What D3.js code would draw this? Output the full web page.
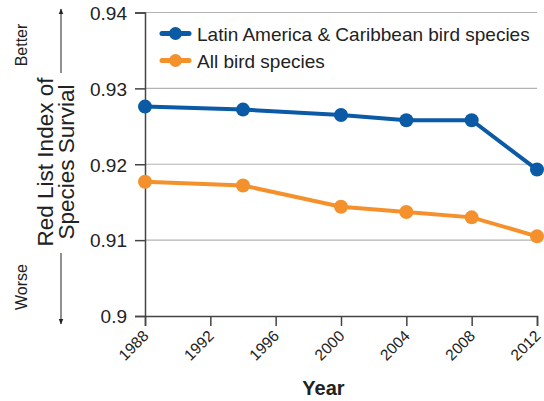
<!DOCTYPE html>
<html><head><meta charset="utf-8">
<script src="https://cdn.jsdelivr.net/npm/d3@7"></script>
<style>body{margin:0;background:#fff}svg{display:block}text{font-family:"Liberation Sans",Arial,Helvetica,sans-serif}</style>
</head><body>
<script>
const years = [1988, 1994, 2000, 2004, 2008, 2012];
const latinAmerica = [0.9276, 0.9272, 0.9265, 0.9258, 0.9258, 0.9193];
const allBirds = [0.9177, 0.9172, 0.9144, 0.9137, 0.9130, 0.9105];
const xTicks = [1988, 1992, 1996, 2000, 2004, 2008, 2012];
const yTicks = [0.9, 0.91, 0.92, 0.93, 0.94];
const yTickLabels = ["0.9", "0.91", "0.92", "0.93", "0.94"];
const seriesNames = ["Latin America & Caribbean bird species", "All bird species"];
const colors = ["#0a5aa6", "#f5912d"];

const W = 544, H = 401;
const svg = d3.select("body").append("svg").attr("width", W).attr("height", H);
const x = d3.scaleLinear().domain([1988, 2012]).range([145, 537]);
const y = d3.scaleLinear().domain([0.9, 0.94]).range([316, 12.5]);

// gridlines
svg.append("g").selectAll("line").data(yTicks.slice(1)).join("line")
  .attr("x1", 145).attr("x2", 537).attr("y1", d => y(d)).attr("y2", d => y(d))
  .attr("stroke", "#b3b3b3").attr("stroke-width", 1.2);

// y axis
const yAxis = d3.axisLeft(y).tickValues(yTicks).tickFormat((d, i) => yTickLabels[i]).tickSize(10).tickPadding(8);
const gy = svg.append("g").attr("transform", "translate(145,0)").call(yAxis);
gy.select(".domain").attr("stroke", "#444").attr("stroke-width", 1.5);
gy.selectAll(".tick line").attr("stroke", "#444").attr("stroke-width", 1.5);
gy.selectAll("text").attr("font-size", 19).attr("fill", "#222").attr("dy", "0.36em");

// x axis
const xAxis = d3.axisBottom(x).tickValues(xTicks).tickFormat(d3.format("d")).tickSize(10);
const gx = svg.append("g").attr("transform", "translate(0,316)").call(xAxis);
gx.select(".domain").attr("stroke", "#444").attr("stroke-width", 1.5);
gx.selectAll(".tick line").attr("stroke", "#444").attr("stroke-width", 1.5);
gx.selectAll("text").attr("font-size", 15.5).attr("fill", "#222")
  .attr("text-anchor", "end").attr("dy", 0).attr("y", 0)
  .attr("transform", "translate(4,21) rotate(-45)");

// lines
const seriesData = [latinAmerica, allBirds];
const line = d3.line().x((d, i) => x(years[i])).y(d => y(d));
seriesData.forEach((s, k) => {
  svg.append("path").datum(s).attr("d", line).attr("fill", "none")
    .attr("stroke", colors[k]).attr("stroke-width", 4);
  svg.append("g").selectAll("circle").data(s).join("circle")
    .attr("cx", (d, i) => x(years[i])).attr("cy", d => y(d)).attr("r", 7)
    .attr("fill", colors[k]);
});

// legend
seriesNames.forEach((n, k) => {
  const ly = 33.5 + k * 27;
  svg.append("line").attr("x1", 162).attr("x2", 189).attr("y1", ly).attr("y2", ly)
    .attr("stroke", colors[k]).attr("stroke-width", 5).attr("stroke-linecap", "round");
  svg.append("circle").attr("cx", 175.5).attr("cy", ly).attr("r", 6.5).attr("fill", colors[k]);
  svg.append("text").attr("x", 197).attr("y", ly + 7).attr("font-size", 19).attr("fill", "#222").text(n);
});

// axis titles
svg.append("text").attr("x", 323.5).attr("y", 395).attr("text-anchor", "middle")
  .attr("font-size", 20).attr("font-weight", "bold").attr("fill", "#222").text("Year");
const yl = svg.append("text").attr("transform", "translate(0,162) rotate(-90)")
  .attr("text-anchor", "middle").attr("font-size", 22.5).attr("fill", "#222");
yl.append("tspan").attr("x", 0).attr("y", 53).text("Red List Index of");
yl.append("tspan").attr("x", 0).attr("y", 74).text("Species Survial");

svg.append("text").attr("transform", "translate(27,45) rotate(-90)").attr("text-anchor", "middle")
  .attr("font-size", 16).attr("fill", "#222").text("Better");
svg.append("text").attr("transform", "translate(27,287) rotate(-90)").attr("text-anchor", "middle")
  .attr("font-size", 16).attr("fill", "#222").text("Worse");

// arrows
const defs = svg.append("defs");
defs.append("marker").attr("id", "ah").attr("viewBox", "0 0 10 10").attr("refX", 9).attr("refY", 5)
  .attr("markerWidth", 6).attr("markerHeight", 6).attr("orient", "auto")
  .append("path").attr("d", "M0,1 L10,5 L0,9 Z").attr("fill", "#222");
svg.append("line").attr("x1", 61).attr("x2", 61).attr("y1", 73).attr("y2", 9)
  .attr("stroke", "#222").attr("stroke-width", 1).attr("marker-end", "url(#ah)");
svg.append("line").attr("x1", 61).attr("x2", 61).attr("y1", 253).attr("y2", 324)
  .attr("stroke", "#222").attr("stroke-width", 1).attr("marker-end", "url(#ah)");
</script>
</body></html>
